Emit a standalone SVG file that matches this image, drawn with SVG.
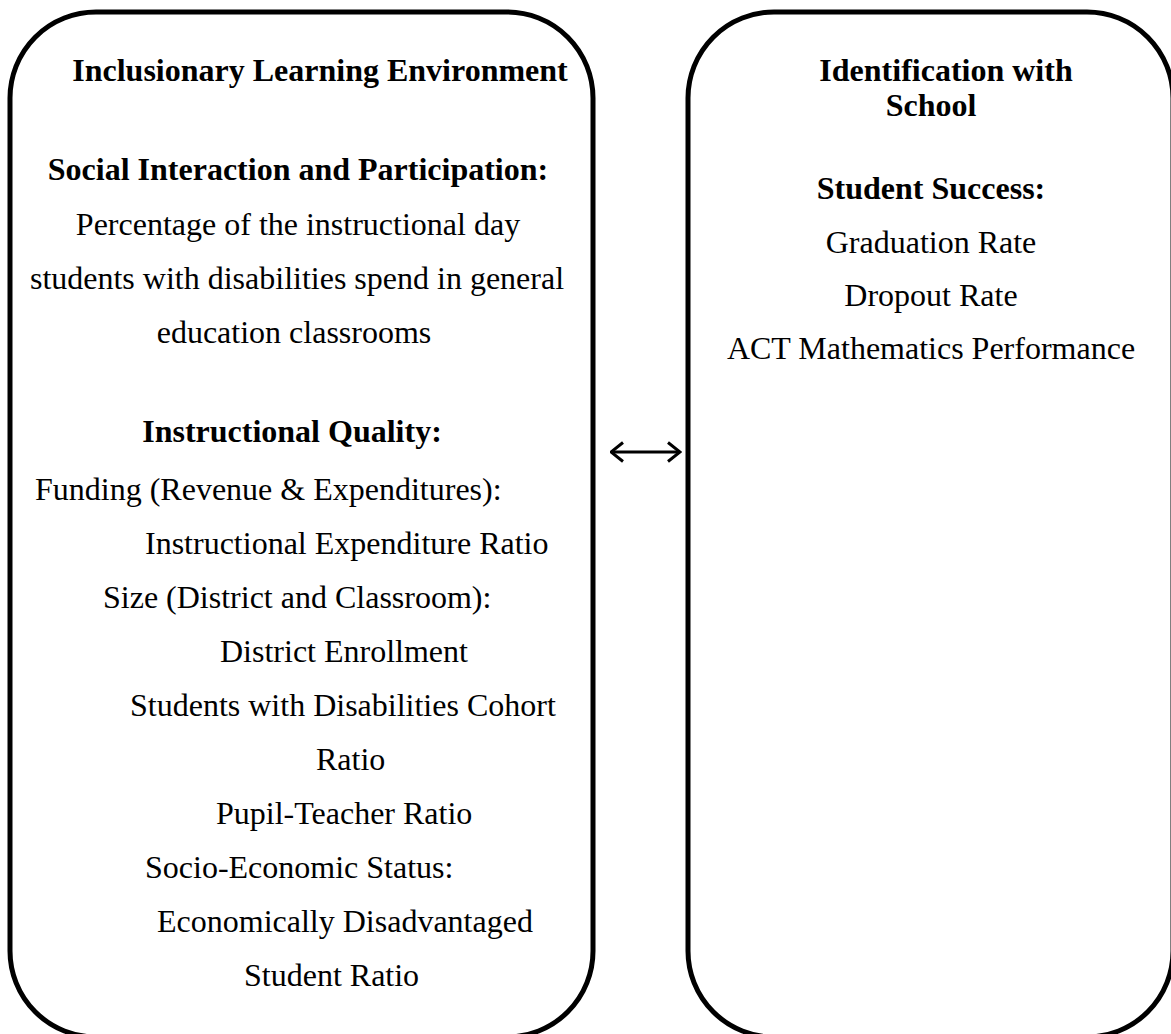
<svg xmlns="http://www.w3.org/2000/svg" width="1171" height="1034" viewBox="0 0 1171 1034">
<style>
.box{fill:none;stroke:#000;stroke-width:5}
.conn{fill:none;stroke:#000;stroke-width:3.2}
text{font-family:"Liberation Serif","Times New Roman",serif;font-size:32px;fill:#000}
.b{font-weight:bold}
.c{text-anchor:middle}
</style>
<defs>
<marker id="ah" viewBox="0 0 15 22" refX="13.5" refY="11" markerWidth="15" markerHeight="22" markerUnits="userSpaceOnUse" orient="auto-start-reverse">
<polyline points="1.5,1.5 13.5,11 1.5,20.5" fill="none" stroke="#000" stroke-width="3"/>
</marker>
</defs>
<g id="left-node">
<rect class="box" x="10" y="12" width="583" height="1025" rx="86" ry="86"/>
<text class="b c" x="320" y="81">Inclusionary Learning Environment</text>
<text class="b c" x="298" y="180">Social Interaction and Participation:</text>
<text class="c" x="298" y="235">Percentage of the instructional day</text>
<text class="c" x="297" y="289">students with disabilities spend in general</text>
<text class="c" x="294" y="343">education classrooms</text>
<text class="b c" x="292" y="442">Instructional Quality:</text>
<text x="35" y="500">Funding (Revenue &amp; Expenditures):</text>
<text x="145" y="554">Instructional Expenditure Ratio</text>
<text x="103" y="608">Size (District and Classroom):</text>
<text x="220" y="662">District Enrollment</text>
<text x="130" y="716">Students with Disabilities Cohort</text>
<text x="316" y="770">Ratio</text>
<text x="216" y="824">Pupil-Teacher Ratio</text>
<text x="145" y="878">Socio-Economic Status:</text>
<text x="157" y="932">Economically Disadvantaged</text>
<text x="244" y="986">Student Ratio</text>
</g>
<g id="right-node">
<rect class="box" x="688" y="12" width="485" height="1025" rx="86" ry="86"/>
<text class="b c" x="946" y="81">Identification with</text>
<text class="b c" x="931" y="116">School</text>
<text class="b c" x="931" y="199">Student Success:</text>
<text class="c" x="931" y="253">Graduation Rate</text>
<text class="c" x="931" y="306">Dropout Rate</text>
<text class="c" x="931" y="359">ACT Mathematics Performance</text>
</g>
<g id="connectors">
<line class="conn" x1="611" y1="452" x2="680" y2="452" marker-start="url(#ah)" marker-end="url(#ah)"/>
</g>
</svg>
